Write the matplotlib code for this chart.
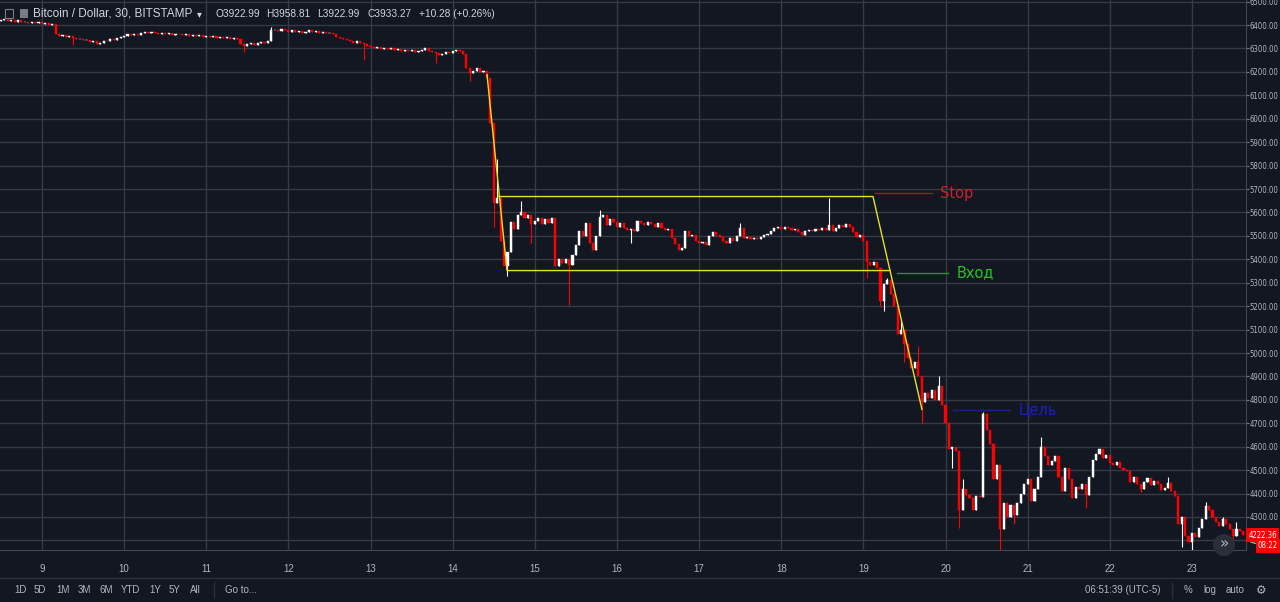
import matplotlib
matplotlib.use('Agg')
import matplotlib.pyplot as plt
from matplotlib import font_manager as fm
from matplotlib.patches import Circle, Rectangle
from matplotlib.transforms import blended_transform_factory
import numpy as np

plt.rcParams['font.family'] = ['Liberation Sans', 'DejaVu Sans']

# hourly closes, 8.5 .. 23.6
pre = [6420, 6425, 6418, 6422, 6415, 6420, 6412, 6415, 6410, 6414, 6408, 6412]
d9 = [6405, 6408, 6400, 6403, 6360, 6355, 6358, 6350, 6352, 6345, 6340, 6342,
      6335, 6338, 6328, 6330, 6318, 6325, 6332, 6330, 6340, 6338, 6345, 6350]
d10 = [6355, 6360, 6356, 6362, 6358, 6365, 6372, 6368, 6370, 6365, 6362, 6366,
       6360, 6364, 6358, 6362, 6360, 6356, 6360, 6355, 6358, 6352, 6356, 6350]
d11 = [6354, 6348, 6352, 6346, 6350, 6345, 6348, 6342, 6345, 6340, 6320, 6312,
       6318, 6322, 6316, 6325, 6328, 6322, 6330, 6378, 6380, 6375, 6382, 6378]
d12 = [6372, 6378, 6370, 6375, 6368, 6372, 6378, 6370, 6374, 6368, 6372, 6365,
       6368, 6360, 6350, 6345, 6340, 6335, 6330, 6325, 6330, 6322, 6318, 6312]
d13 = [6305, 6300, 6305, 6298, 6302, 6296, 6300, 6295, 6298, 6290, 6295, 6288,
       6292, 6285, 6290, 6295, 6300, 6290, 6284, 6280, 6272, 6278, 6286, 6282]
d14 = [6290, 6295, 6288, 6275, 6215, 6195, 6205, 6215, 6200, 6205, 6175, 5980,
       5640, 5660, 5480, 5370, 5430, 5560, 5530, 5590, 5600, 5575, 5590, 5550]
d15 = [5565, 5575, 5550, 5570, 5555, 5575, 5370, 5400, 5385, 5400, 5375, 5420,
       5460, 5520, 5500, 5555, 5470, 5440, 5500, 5580, 5590, 5545, 5570, 5560]
d16 = [5540, 5555, 5535, 5525, 5530, 5520, 5565, 5555, 5545, 5560, 5550, 5540,
       5555, 5535, 5525, 5530, 5490, 5465, 5440, 5450, 5520, 5500, 5505, 5480]
d17 = [5470, 5475, 5460, 5500, 5515, 5505, 5495, 5480, 5470, 5490, 5480, 5500,
       5535, 5490, 5495, 5485, 5492, 5488, 5495, 5505, 5510, 5520, 5535, 5540]
d18 = [5530, 5540, 5535, 5525, 5530, 5515, 5505, 5520, 5525, 5520, 5530, 5525,
       5535, 5525, 5545, 5520, 5535, 5545, 5540, 5550, 5540, 5515, 5495, 5505]
d19 = [5480, 5390, 5375, 5390, 5365, 5220, 5295, 5310, 5250, 5200, 5080, 5100,
       5040, 4980, 4935, 4960, 4900, 4790, 4830, 4810, 4840, 4800, 4860, 4780]
d20 = [4700, 4590, 4600, 4580, 4330, 4420, 4395, 4380, 4330, 4390, 4385, 4740,
       4670, 4610, 4460, 4520, 4250, 4360, 4300, 4350, 4310, 4360, 4400, 4440]
d21 = [4460, 4370, 4420, 4470, 4600, 4560, 4520, 4540, 4560, 4470, 4410, 4510,
       4460, 4380, 4430, 4420, 4440, 4395, 4470, 4545, 4570, 4590, 4550, 4565]
d22 = [4530, 4520, 4535, 4510, 4500, 4495, 4450, 4470, 4440, 4420, 4450, 4465,
       4435, 4455, 4440, 4415, 4425, 4445, 4410, 4390, 4270, 4300, 4220, 4195]
d23 = [4230, 4215, 4255, 4290, 4345, 4330, 4300, 4280, 4260, 4290, 4270, 4250,
       4220, 4250, 4240, 4222.36]
first_open = 6418

# notable wicks: (day, hour, price)
wick_hi = [(11, 19, 6390), (14, 13, 5830), (14, 20, 5647), (15, 19, 5612),
           (17, 12, 5555), (18, 14, 5660), (19, 7, 5320), (19, 11, 5140),
           (19, 16, 5030), (19, 22, 4900), (20, 5, 4460), (20, 11, 4750),
           (21, 4, 4640), (22, 17, 4470), (23, 4, 4365), (23, 9, 4300),
           (23, 13, 4280)]
wick_lo = [(9, 9, 6316), (11, 11, 6283), (12, 22, 6252), (13, 19, 6240),
           (14, 5, 6160), (14, 12, 5540), (14, 16, 5330), (14, 23, 5470),
           (15, 10, 5205), (16, 4, 5470), (19, 1, 5320), (19, 5, 5198),
           (19, 6, 5180), (19, 12, 4963), (19, 17, 4703), (20, 2, 4510),
           (20, 4, 4255), (20, 16, 4130), (20, 20, 4270), (21, 17, 4340),
           (22, 9, 4405), (22, 21, 4170), (23, 0, 4130), (23, 12, 4190)]

# drawn channel and levels
chan_a_x = [14.418, 14.661, 19.324]
chan_a_y = [6188, 5352, 5352]
chan_b_x = [14.564, 19.117, 19.713]
chan_b_y = [5668, 5668, 4759]
levels = [("Stop", 19.141, 19.835, 5682, '#9a1c24', '#c8232b'),
          ("Вход", 19.409, 20.030, 5341, '#1f9a1f', '#22c422'),
          ("Цель", 20.091, 20.785, 4757, '#1f1f8c', '#1c1cc8')]
last_price = 4222.36

bg = '#131722'
grid_c = '#363a45'
txt_c = '#b2b5be'


def narrow_font():
    # a condensed face if one is installed, else plain Liberation Sans
    for fam, st in [('Liberation Sans Narrow', 'normal'), ('DejaVu Sans', 'condensed')]:
        try:
            p = fm.findfont(fm.FontProperties(family=fam, stretch=st), fallback_to_default=False)
        except Exception:
            continue
        if 'narrow' in p.lower() or 'condensed' in p.lower():
            return fm.FontProperties(fname=p)
    return fm.FontProperties(family='Liberation Sans')


nfp = narrow_font()

closes = np.array(pre + d9 + d10 + d11 + d12 + d13 + d14 + d15 + d16 + d17
                  + d18 + d19 + d20 + d21 + d22 + d23, dtype=float)
opens = np.r_[first_open, closes[:-1]]
times = 8.5 + np.arange(len(closes)) / 24
highs = np.maximum(opens, closes)
lows = np.minimum(opens, closes)
for d, h, p in wick_hi:
    highs[12 + (d - 9) * 24 + h] = p
for d, h, p in wick_lo:
    lows[12 + (d - 9) * 24 + h] = p
up = closes >= opens
cols = np.where(up, '#ffffff', '#ff0000')

fig = plt.figure(figsize=(12.8, 6.02), dpi=100, facecolor=bg)
ax = fig.add_axes([0, 52 / 602, 1246 / 1280, 550 / 602], facecolor=bg)

# fit the price-scale font so "6400.00" is about 29 px wide
probe = fig.text(0, 0, '6400.00', fontproperties=nfp, fontsize=10)
fig.canvas.draw()
nsize = min(7.2, 10 * 29 / probe.get_window_extent().width)
probe.remove()

ax.vlines(times, lows, highs, colors=cols, lw=0.8, zorder=3)
ax.bar(times, np.maximum(np.abs(closes - opens), 2), bottom=np.minimum(opens, closes),
       width=0.62 / 24, color=cols, edgecolor=cols, lw=0.3, zorder=3)

ax.plot(chan_a_x, chan_a_y, color='#e3e31c', lw=1, zorder=4)
ax.plot(chan_b_x, chan_b_y, color='#e3e31c', lw=1, zorder=4)
for name, x0, x1, p, lc, tc in levels:
    ax.plot([x0, x1], [p, p], color=lc, lw=1, zorder=4)
    ax.text(x1 + 0.1, p, name, color=tc, fontsize=10.5, va='center', ha='left', zorder=5,
            family=['DejaVu Sans'])

ax.set_xlim(8.489, 23.658)
ax.set_ylim(4159, 6507)
ax.set_yticks(np.arange(4200, 6501, 100))
ax.set_yticklabels(['%.2f' % v for v in np.arange(4200, 6501, 100)])
ax.yaxis.tick_right()
ax.set_xticks(range(9, 24))
ax.set_xticklabels([str(d) for d in range(9, 24)])
ax.grid(True, color=grid_c, lw=1)
ax.set_axisbelow(True)
ax.tick_params(axis='y', colors='#787b86', labelcolor=txt_c, length=2.2, pad=0.5)
ax.tick_params(axis='x', length=0, labelcolor=txt_c, labelsize=7, pad=10)
for lbl in ax.get_yticklabels():
    lbl.set_fontproperties(nfp)
    lbl.set_fontsize(nsize)
for s in ['left', 'top']:
    ax.spines[s].set_visible(False)
for s in ['right', 'bottom']:
    ax.spines[s].set_color('#434651')

tr = blended_transform_factory(ax.transAxes, ax.transData)
ax.text(1.002, last_price, '%.2f' % last_price, transform=tr, color='white',
        fontproperties=nfp, fontsize=nsize, va='center', ha='left', clip_on=False, zorder=6,
        bbox=dict(facecolor='#ff0000', edgecolor='none', pad=1.8))
ax.text(1.0095, last_price - 46, '08:22', transform=tr, color='white',
        fontproperties=nfp, fontsize=nsize, va='center', ha='left', clip_on=False, zorder=6,
        bbox=dict(facecolor='#ff0000', edgecolor='none', pad=1.5))

# chrome overlay in pixel coordinates
ov = fig.add_axes([0, 0, 1, 1], facecolor='none')
ov.set_xlim(0, 1280)
ov.set_ylim(602, 0)
ov.axis('off')
ov.plot([0, 1280], [577.5, 577.5], color='#2a2e39', lw=1)
ov.add_patch(Circle((1224, 545), 11, facecolor='#2a2e39', edgecolor='none'))
ov.text(1224, 544, '»', color=txt_c, fontsize=11, ha='center', va='center', family=['DejaVu Sans'])
ov.add_patch(Rectangle((5, 9), 8, 9, facecolor='none', edgecolor='#787b86', lw=0.8))
ov.add_patch(Rectangle((20, 9), 8, 9, facecolor='#787b86', edgecolor='none'))
ov.text(33, 14, 'Bitcoin / Dollar, 30, BITSTAMP', color='#d1d4dc', fontsize=8.5,
        va='center', ha='left')
ov.text(197, 14, '▾', color='#d1d4dc', fontsize=7, va='center', ha='left', family=['DejaVu Sans'])
hdr = [(215, 'O3922.99'), (266, 'H3958.81'), (317, 'L3922.99'), (368, 'C3933.27'),
       (419, '+10.28 (+0.26%)')]
for x, s in hdr:
    ov.text(x, 14, s, color='#d1d4dc', fontsize=7.3, va='center', ha='left')
tb_left = [(14, '1D'), (34, '5D'), (56, '1M'), (78, '3M'), (99, '6M'), (121, 'YTD'),
           (149, '1Y'), (169, '5Y'), (190, 'All'), (225, 'Go to...')]
for x, s in tb_left:
    ov.text(x, 590, s, color=txt_c, fontsize=7, va='center', ha='left')
ov.plot([214, 214], [582, 598], color='#2a2e39', lw=1)
ov.plot([1172, 1172], [582, 598], color='#2a2e39', lw=1)
for x, s in [(1085, '06:51:39 (UTC-5)'), (1184, '%'), (1203, 'log'), (1226, 'auto')]:
    ov.text(x, 590, s, color=txt_c, fontsize=7, va='center', ha='left')
ov.text(1256, 590, '⚙', color=txt_c, fontsize=8.5, va='center', ha='left', family=['DejaVu Sans'])

fig.savefig('out.png', dpi=100, facecolor=bg)
